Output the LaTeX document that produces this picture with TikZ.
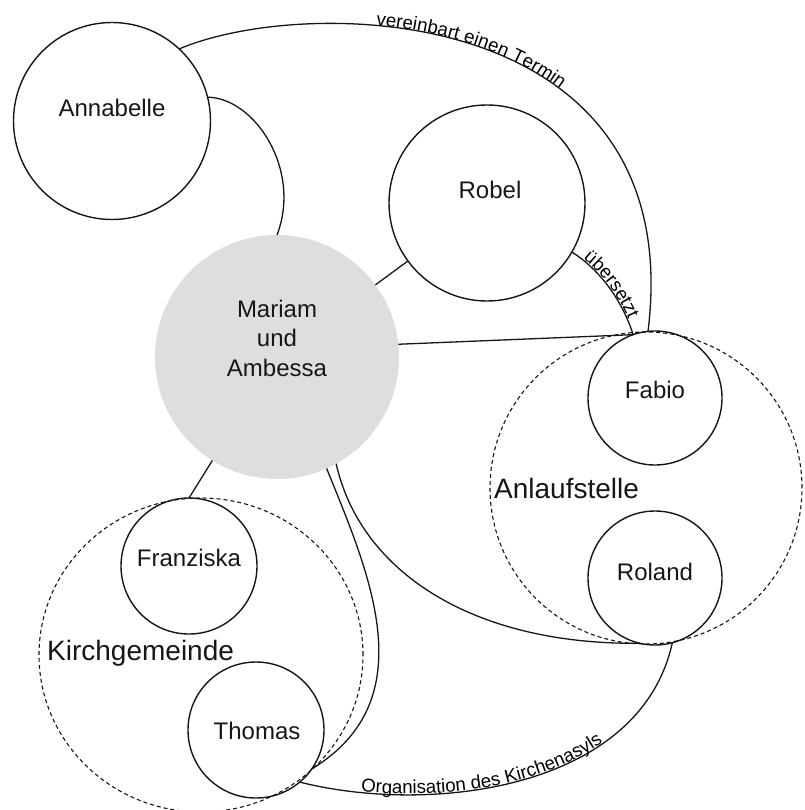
\documentclass[tikz,border=0pt]{standalone}
\usepackage{fontspec}
\setmainfont{Liberation Sans}
\usetikzlibrary{shapes.geometric,decorations.text}
\definecolor{mgray}{RGB}{222,222,222}
\definecolor{ink}{RGB}{22,22,22}
\begin{document}
\begin{tikzpicture}[x=1pt,y=-1pt,
  person/.style={circle,draw=ink,line width=1.4pt,inner sep=0pt,outer sep=0pt},
  grp/.style={ellipse,draw=ink,line width=1.1pt,dash pattern=on 4pt off 3pt,inner sep=0pt,outer sep=0pt},
  lbl/.style={inner sep=0pt,anchor=base,font=\fontsize{24}{29.5}\selectfont,text=ink},
  glbl/.style={inner sep=0pt,anchor=base west,font=\fontsize{28}{32}\selectfont,text=ink},
  link/.style={draw=ink,line width=1.3pt},
  ]
\useasboundingbox (0,0) rectangle (804,810);
% groups
\node[grp,minimum width=312pt,minimum height=312pt] (anl) at (646,488) {};
\node[grp,minimum width=324pt,minimum height=314pt] (kirch) at (201,655) {};
% persons
\node[person,minimum size=197pt] (annabelle) at (112,121) {};
\node[person,minimum size=196pt] (robel) at (487,203) {};
\node[circle,fill=mgray,inner sep=0pt,outer sep=0pt,minimum size=244pt] (mariam) at (277,357) {};
\node[person,minimum size=134pt] (fabio) at (655,398) {};
\node[person,minimum size=134pt] (roland) at (655,578) {};
\node[person,minimum size=136pt] (franziska) at (189,566) {};
\node[person,minimum size=136pt] (thomas) at (256,730) {};
% labels
\node[lbl] (tannabelle) at (112,117) {Annabelle};
\node[lbl] (trobel) at (490,199) {Robel};
\node[lbl,anchor=center,align=center] (tmariam) at (277,338) {Mariam\\und\\Ambessa};
\node[lbl] (tfabio) at (655,398) {Fabio};
\node[lbl] (troland) at (655,580) {Roland};
\node[lbl] (tfranziska) at (189,566) {Franziska};
\node[lbl] (tthomas) at (257,739) {Thomas};
\node[glbl] (tanl) at (494,498) {Anlaufstelle};
\node[glbl] (tkirch) at (47,660) {Kirchgemeinde};
% connectors
\draw[link] (annabelle.14) .. controls (255,98) and (302,170) .. (mariam.north);
\draw[link] (robel) -- (mariam);
\draw[link] (mariam.6) -- (fabio.109);
\draw[link] (mariam.238) -- (franziska.north);
\draw[link] (mariam.-61) .. controls (360,570) and (470,645) .. (roland.-103);
\draw[link] (mariam.-66) .. controls (370,575) and (425,700) .. (thomas.-35);
\draw[link,postaction={decorate,decoration={text along path,
   text={|\fontsize{18.7}{20}\selectfont|vereinbart einen Termin},
   text align={left indent=200pt},raise=0pt}}]
  (annabelle.47) .. controls (305,-5) and (689,0) .. (fabio.96);
\draw[link,postaction={decorate,decoration={text along path,
   text={|\fontsize{18.5}{20}\selectfont|übersetzt},
   text align={left indent=13pt},raise=1pt}}]
  (robel.-30) .. controls (600,270) and (622,300) .. (fabio.109);
\draw[link,postaction={decorate,decoration={text along path,
   text={|\fontsize{18.7}{20}\selectfont|Organisation des Kirchenasyls},
   text align={left indent=62pt},raise=1pt}}]
  (thomas.-50) .. controls (430,815) and (640,790) .. (roland.-75);
\end{tikzpicture}
\end{document}
